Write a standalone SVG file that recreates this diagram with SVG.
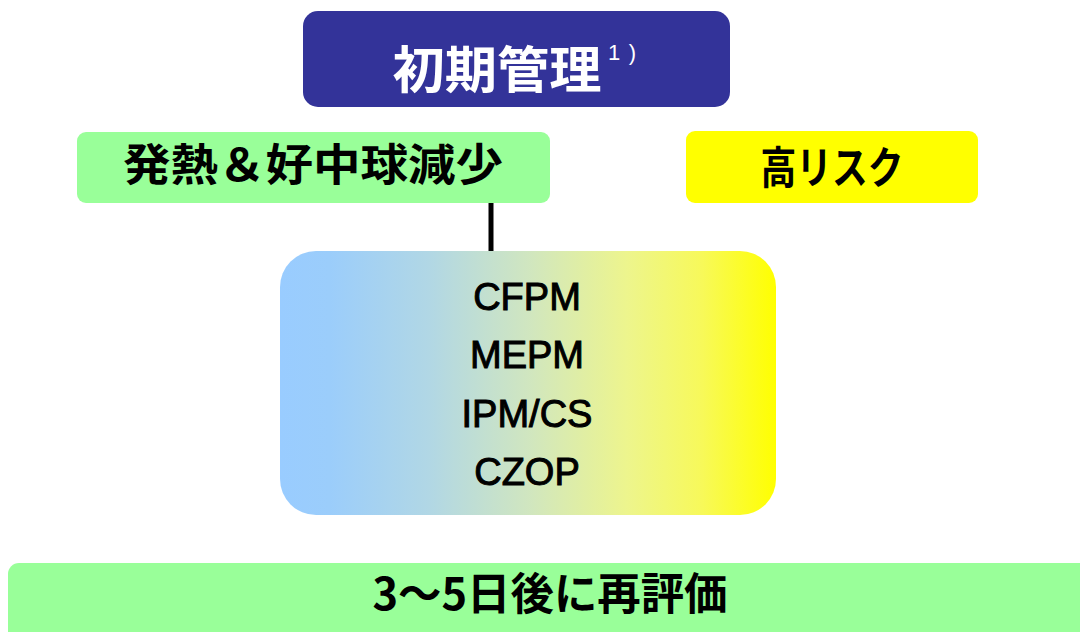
<svg xmlns="http://www.w3.org/2000/svg" width="1080" height="632" viewBox="0 0 1080 632">
<defs>
<linearGradient id="grad" x1="0" y1="0" x2="1" y2="0">
<stop offset="0" stop-color="#99CCFF"/>
<stop offset="0.1" stop-color="#9BCDFB"/>
<stop offset="0.3" stop-color="#B1D7E5"/>
<stop offset="0.5" stop-color="#D0E6C0"/>
<stop offset="0.7" stop-color="#EDF58D"/>
<stop offset="0.85" stop-color="#F7F95A"/>
<stop offset="1" stop-color="#FFFF00"/>
</linearGradient>
<style>
.jp{font-family:"Noto Sans CJK JP","Liberation Sans",sans-serif;font-weight:bold;text-anchor:middle;fill:#000}
.en{font-family:"Liberation Sans",Arial,sans-serif;font-weight:normal;font-size:38px;text-anchor:middle;fill:#000;stroke:#000;stroke-width:1}
.green{fill:#99FF99}
</style>
</defs>
<rect width="1080" height="632" fill="#fff"/>
<g id="connectors">
<line x1="491" y1="203" x2="491" y2="252" stroke="#000" stroke-width="5"/>
</g>
<g id="node-initial">
<rect x="303" y="11" width="427" height="96" rx="15" fill="#333399"/>
<text class="jp" x="497" y="88" font-size="50" style="fill:#fff" textLength="209" lengthAdjust="spacingAndGlyphs">初期管理</text>
<text x="608" y="60" font-family="Liberation Sans,Arial,sans-serif" font-size="22" fill="#fff" textLength="28" lengthAdjust="spacing">1)</text>
</g>
<g id="node-fever">
<rect class="green" x="77" y="132" width="473" height="71" rx="9"/>
<text class="jp" x="313" y="181" font-size="44" textLength="380" lengthAdjust="spacingAndGlyphs">発熱＆好中球減少</text>
</g>
<g id="node-highrisk">
<rect x="686" y="131" width="292" height="72" rx="9" fill="#FFFF00"/>
<text class="jp" x="832" y="184" font-size="44" textLength="143" lengthAdjust="spacingAndGlyphs">高リスク</text>
</g>
<g id="node-drugs">
<rect x="280" y="251" width="496" height="264" rx="36" fill="url(#grad)"/>
<text class="en" x="527" y="310">CFPM</text>
<text class="en" x="527" y="368">MEPM</text>
<text class="en" x="527" y="427">IPM/CS</text>
<text class="en" x="527" y="485">CZOP</text>
</g>
<g id="node-reeval">
<rect class="green" x="8" y="563" width="1092" height="90" rx="11"/>
<text class="jp" x="550" y="610" font-size="44" textLength="355" lengthAdjust="spacingAndGlyphs">3～5日後に再評価</text>
</g>
</svg>
